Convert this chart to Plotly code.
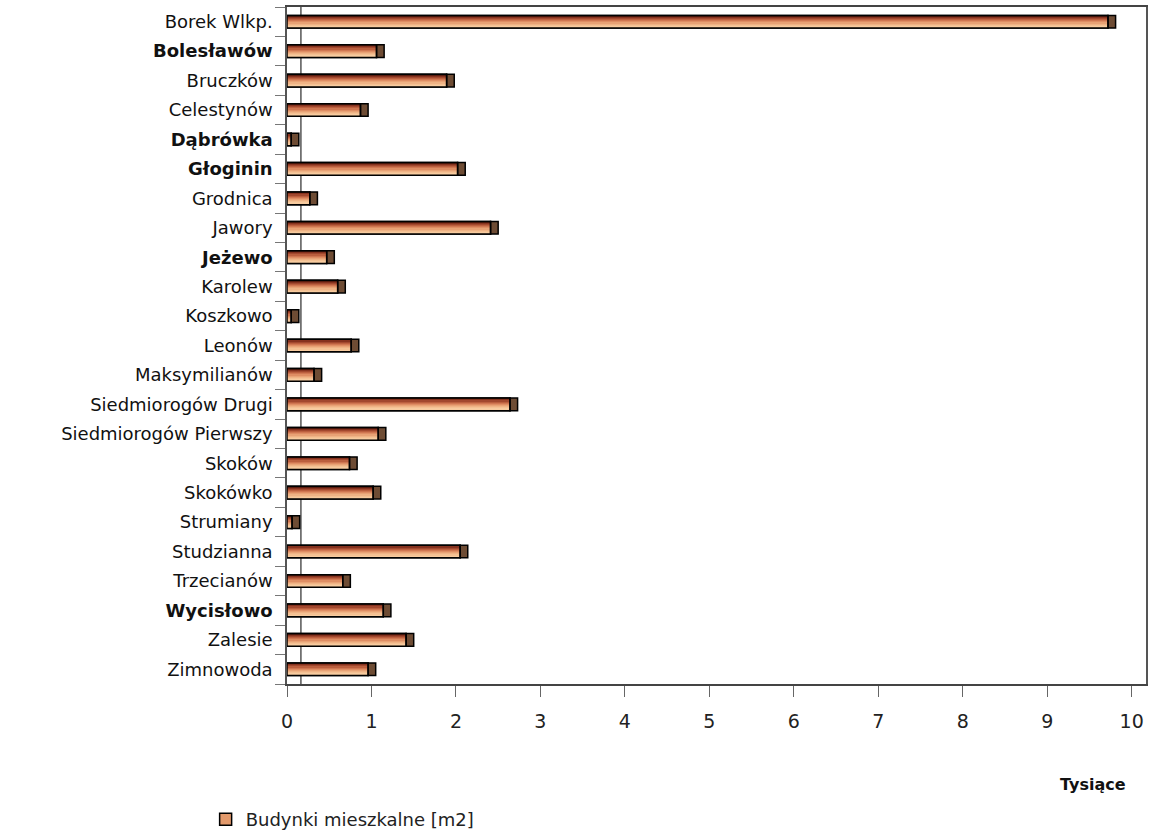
import plotly.graph_objects as go

categories = ["Borek Wlkp.", "Bolesławów", "Bruczków", "Celestynów", "Dąbrówka", "Głoginin",
              "Grodnica", "Jawory", "Jeżewo", "Karolew", "Koszkowo", "Leonów", "Maksymilianów",
              "Siedmiorogów Drugi", "Siedmiorogów Pierwszy", "Skoków", "Skokówko", "Strumiany",
              "Studzianna", "Trzecianów", "Wycisłowo", "Zalesie", "Zimnowoda"]
values = [9.81, 1.15, 1.98, 0.96, 0.14, 2.11, 0.36, 2.50, 0.56, 0.69, 0.14, 0.85, 0.41,
          2.73, 1.17, 0.83, 1.11, 0.15, 2.14, 0.75, 1.23, 1.50, 1.05]
bold_labels = ["Bolesławów", "Dąbrówka", "Głoginin", "Jeżewo", "Wycisłowo"]
series_name = "Budynki mieszkalne [m2]"
x_ticks = list(range(0, 11))
unit_label = "Tysiące"

CAP = 0.09
W = 0.43
band_colors = ["#5a1c0e", "#86321e", "#a2482e", "#bb5f3e", "#cf7651", "#de8d63",
               "#e8a275", "#efb385", "#f4c193", "#f7cb9f"]

main_len = [max(v - CAP, 0) for v in values]
cap_base = [max(v - CAP, 0) for v in values]
cap_len = [v - b for v, b in zip(values, cap_base)]

fig = go.Figure()

# base layer (legend entry)
fig.add_trace(go.Bar(y=categories, x=main_len, orientation="h", width=W,
                     marker=dict(color="#e39a6c", line=dict(color="black", width=1.5)),
                     name=series_name, showlegend=True, hoverinfo="skip"))

K = len(band_colors)
inner = W - 0.04
for i, c in enumerate(band_colors):
    fig.add_trace(go.Bar(y=categories, x=main_len, orientation="h",
                         width=inner / K, offset=-inner / 2 + i * inner / K,
                         marker=dict(color=c, line=dict(width=0)),
                         showlegend=False, hoverinfo="skip"))

# cap
fig.add_trace(go.Bar(y=categories, x=cap_len, base=cap_base, orientation="h", width=W,
                     marker=dict(color="#6e4c34", line=dict(color="black", width=1.5)),
                     showlegend=False, hoverinfo="skip"))

# outline
fig.add_trace(go.Bar(y=categories, x=main_len, orientation="h", width=W,
                     marker=dict(color="rgba(0,0,0,0)", line=dict(color="black", width=1.5)),
                     showlegend=False, hoverinfo="skip"))

ticktext = [f"<b>{c}</b>" if c in bold_labels else c for c in categories]

fig.add_shape(type="line", x0=0.165, x1=0.165, y0=0, y1=1, xref="x", yref="paper",
              line=dict(color="black", width=1), layer="below")

fig.update_layout(
    width=1152, height=833,
    margin=dict(l=287, r=6, t=7, b=149, autoexpand=False),
    plot_bgcolor="white", paper_bgcolor="white",
    barmode="overlay",
    font=dict(family="DejaVu Sans", color="#111"),
    xaxis=dict(range=[0, 10.17], tickvals=x_ticks, ticks="outside", ticklen=11,
               tickcolor="#666", tickwidth=1, showgrid=False, zeroline=False,
               showline=True, linecolor="#444", linewidth=1.5, mirror=True,
               automargin=False, ticklabelstandoff=8,
               tickfont=dict(size=19, color="#222"), fixedrange=True),
    yaxis=dict(tickvals=categories, ticktext=ticktext, autorange="reversed",
               tickson="boundaries", ticks="outside", ticklen=10, tickcolor="#777",
               showgrid=False, zeroline=False, showline=True, linecolor="#555",
               linewidth=1.5, mirror=True, automargin=False, ticklabelstandoff=9,
               tickfont=dict(size=18, color="#111")),
    legend=dict(xref="container", yref="container", x=0.1785, y=0.016,
                xanchor="left", yanchor="middle", itemwidth=30,
                font=dict(size=18, color="#222"), bgcolor="rgba(0,0,0,0)"),
    annotations=[dict(text=f"<b>{unit_label}</b>", x=0.979, y=-0.148, xref="paper",
                      yref="paper", xanchor="right", yanchor="middle", showarrow=False,
                      font=dict(size=16, color="#111"))],
)

fig.write_html("out.html", config={"displayModeBar": False},
               post_script="document.body.style.margin='0';document.body.style.overflow='hidden';")
